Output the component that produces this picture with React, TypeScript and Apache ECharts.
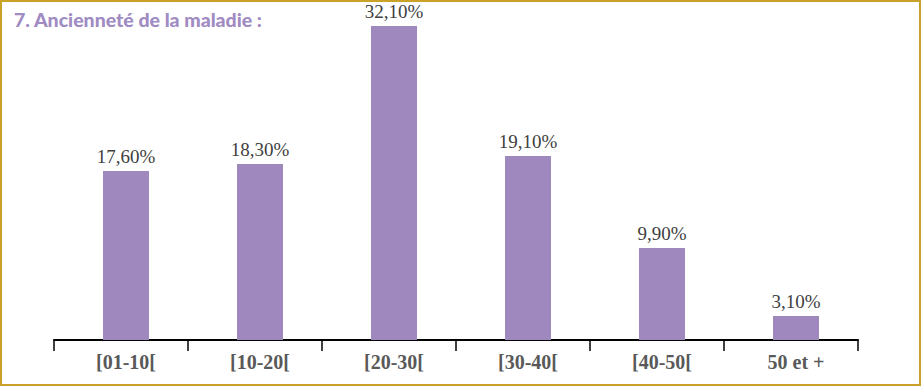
import React, { useEffect, useRef } from "react";
import * as echarts from "echarts";

const categories = ["[01-10[", "[10-20[", "[20-30[", "[30-40[", "[40-50[", "50 et +"];
const values = [17.6, 18.3, 32.1, 19.1, 9.9, 3.1];
const titleText = "7. Ancienneté de la maladie :";

export default function App() {
  const ref = useRef<HTMLDivElement>(null);
  useEffect(() => {
    document.body.style.margin = "0";
    const chart = echarts.init(ref.current!, null, { renderer: "svg" });
    chart.setOption({
      animation: false,
      backgroundColor: "#ffffff",
      title: {
        text: titleText,
        left: 9,
        top: 4,
        textStyle: {
          fontFamily: "Lato",
          fontWeight: 900,
          fontSize: 19.5,
          color: "#A08BC3",
        },
      },
      graphic: [
        {
          type: "rect",
          shape: { x: 1, y: 1, width: 919, height: 384 },
          style: { fill: "none", stroke: "#C9A227", lineWidth: 2 },
          silent: true,
        },
      ],
      grid: [
        { left: 54, right: 64, top: 26, bottom: 47 },
        { left: 59, right: 59, top: 26, bottom: 47 },
      ],
      xAxis: [
        {
          type: "category",
          gridIndex: 0,
          data: categories,
          axisLine: { lineStyle: { color: "#000000", width: 2 } },
          axisTick: { show: true, length: 11, lineStyle: { color: "#000000", width: 1.5 } },
          axisLabel: { show: false },
        },
        {
          type: "category",
          gridIndex: 1,
          data: categories,
          axisLine: { show: false },
          axisTick: { show: false },
          axisLabel: {
            margin: 12,
            fontFamily: "Liberation Serif",
            fontWeight: "bold",
            fontSize: 20,
            color: "#595959",
          },
        },
      ],
      yAxis: [
        { type: "value", gridIndex: 0, min: 0.7, max: 32.1, show: false, splitLine: { show: false } },
        { type: "value", gridIndex: 1, min: 0.7, max: 32.1, show: false, splitLine: { show: false } },
      ],
      series: [
        {
          type: "bar",
          xAxisIndex: 1,
          yAxisIndex: 1,
          data: values,
          barWidth: 46,
          itemStyle: { color: "#9E88BE" },
          label: {
            show: true,
            position: "top",
            distance: 5,
            fontFamily: "Liberation Serif",
            fontSize: 19,
            color: "#404040",
            formatter: (p: any) => p.value.toFixed(2).replace(".", ",") + "%",
          },
        },
      ],
    });
    return () => chart.dispose();
  }, []);
  return <div ref={ref} style={{ width: 922, height: 387 }} />;
}
